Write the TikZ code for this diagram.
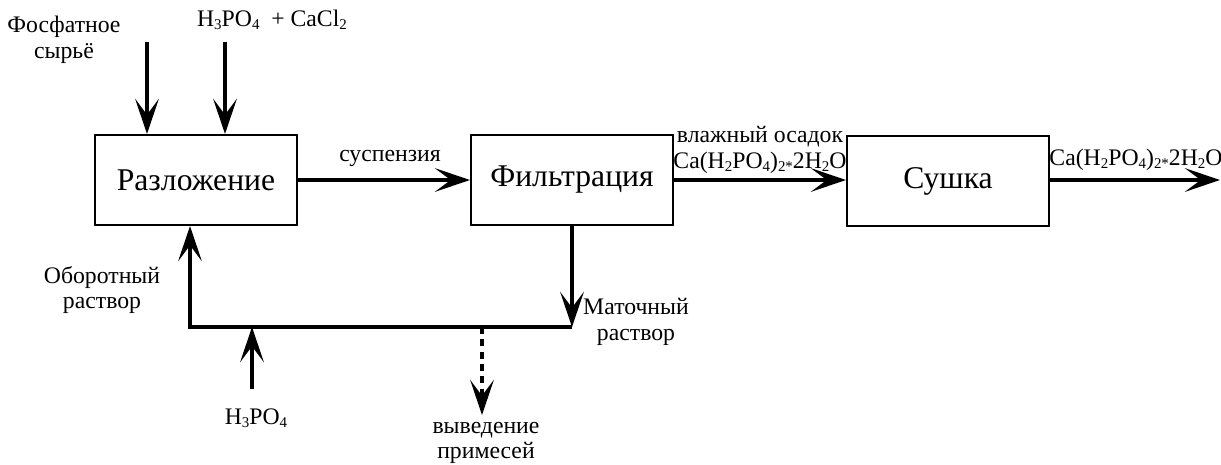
\documentclass[tikz,border=0pt]{standalone}
\usepackage{fontspec}
\setmainfont{Liberation Serif}
\usetikzlibrary{arrows.meta,positioning}
% small, slightly lowered index as in the formulas
\newcommand{\ix}[1]{\raisebox{-0.25ex}{\fontsize{8.5pt}{8.5pt}\selectfont #1}}
\tikzset{stage/.style={draw=black, line width=1.2pt, minimum width=4.04cm, minimum height=1.8cm, font=\fontsize{18pt}{20pt}\selectfont},
    flow/.style={line width=2pt, -{Stealth[length=20pt, width=13.5pt, inset=9pt]}},
    lbl/.style={align=center, inner sep=0pt, font=\fontsize{13.5pt}{14.5pt}\selectfont}}

\begin{document}
\begin{tikzpicture}[x=0.02cm, y=-0.02cm]
    \useasboundingbox (0,0) rectangle (1221,464);
    % process stages
    \node[stage] (razl) at (196,180) {Разложение};
    \node[stage] (filt) at (572,180) {Фильтрация};
    \node[stage] (sush) at (948,181) {Сушка};

    % free ends of the streams
    \coordinate (in1) at (147,42);
    \coordinate (in2) at (225,42);
    \coordinate (out) at (1220,180);
    \coordinate (mat) at (572,327);
    \coordinate (ret) at (190,327);
    \coordinate (acid) at (252,389);
    \coordinate (purge) at (482,415);

    \draw[flow] (in1) -- (in1 |- razl.north);
    \draw[flow] (in2) -- (in2 |- razl.north);
    \draw[flow] (razl.east) -- (filt.west);
    \draw[flow] (filt.east) -- (filt.east -| sush.west);
    \draw[flow] (sush.east |- out) -- (out);
    \draw[flow] (filt.south) -- (mat);
    \draw[flow] (mat) -- (ret) -- (ret |- razl.south);
    \draw[flow] (acid) -- (acid |- mat);
    \draw[flow, dash pattern=on 4pt off 3pt] (purge |- mat) -- (purge);

    % stream labels
    \node[lbl] (phos) at (64,40) {Фосфатное\\сырьё};
    \node[lbl] (reag) at (272,20) {H\ix{3}PO\ix{4} \ + CaCl\ix{2}};
    \node[lbl] (susp) at (390,158) {суспензия};
    \node[lbl] (wet) at (760,150) {влажный осадок\\Ca(H\ix{2}PO\ix{4})\ix{2*}2H\ix{2}O};
    \node[lbl] (prod) at (1136,160) {Ca(H\ix{2}PO\ix{4})\ix{2*}2H\ix{2}O};
    \node[lbl] (obor) at (102,290) {Оборотный\\раствор};
    \node[lbl] (mlik) at (636,322) {Маточный\\раствор};
    \node[lbl] (acidl) at (256,418) {H\ix{3}PO\ix{4}};
    \node[lbl] (purgl) at (486,443) {выведение\\примесей};
\end{tikzpicture}
\end{document}
